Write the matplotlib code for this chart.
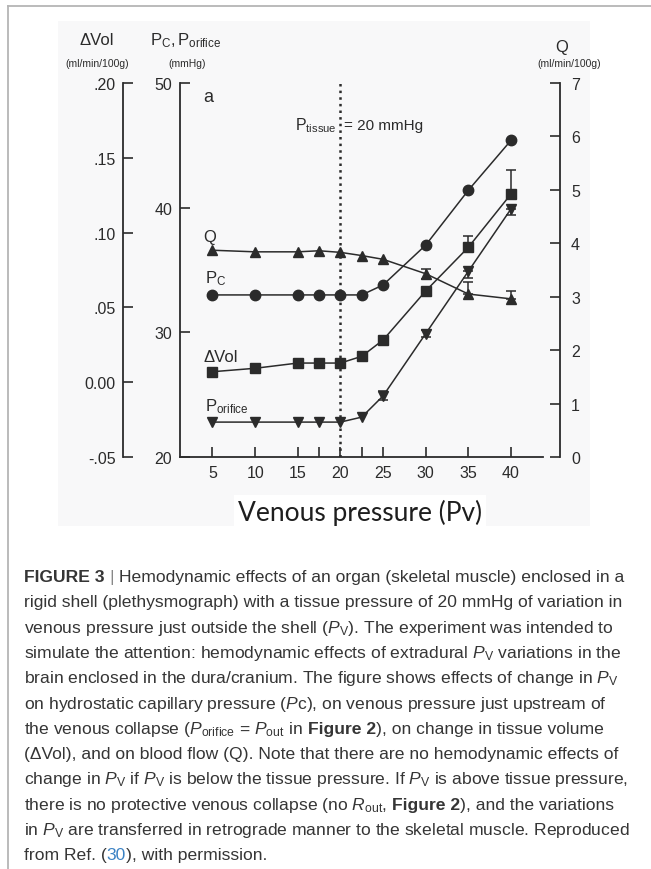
import matplotlib.pyplot as plt
from matplotlib.patches import Rectangle
from matplotlib.lines import Line2D

plt.rcParams['font.family'] = ['Liberation Sans', 'DejaVu Sans']
plt.rcParams['mathtext.fontset'] = 'custom'
plt.rcParams['mathtext.rm'] = 'Liberation Sans'
plt.rcParams['mathtext.it'] = 'Liberation Sans:italic'
plt.rcParams['mathtext.bf'] = 'Liberation Sans:bold'

# venous pressure (x) and the four series
pv = [5, 10, 15, 17.5, 20, 22.5, 25, 30, 35, 40]
pv_labels = ['5', '10', '15', '', '20', '', '25', '30', '35', '40']

q = [3.87, 3.84, 3.84, 3.86, 3.83, 3.77, 3.70, 3.43, 3.05, 2.96]
q_err_lo = [0, 0, 0, 0, 0, 0, 0, 0.09, 0, 0]
q_err_hi = [0, 0, 0, 0, 0, 0, 0, 0.09, 0.22, 0.14]

pc = [33.0, 33.0, 33.0, 33.0, 33.0, 33.0, 33.8, 37.0, 41.4, 45.4]

dvol = [0.0070, 0.0093, 0.0128, 0.0128, 0.0128, 0.0173, 0.0282, 0.0610, 0.0902, 0.1258]
dvol_err_lo = [0, 0, 0, 0, 0, 0, 0, 0, 0, 0]
dvol_err_hi = [0, 0, 0, 0, 0, 0, 0, 0, 0.0074, 0.0162]

porifice = [22.8, 22.8, 22.8, 22.8, 22.8, 23.2, 24.9, 29.9, 34.9, 39.9]
porif_err_lo = [0, 0, 0, 0, 0, 0, 0.36, 0.30, 0.53, 0.46]
porif_err_hi = [0, 0, 0, 0, 0, 0, 0.36, 0.30, 0, 0]

dvol_ticks = [-0.05, 0.0, 0.05, 0.10, 0.15, 0.20]
dvol_ticklabels = ['-.05', '0.00', '.05', '.10', '.15', '.20']
p_ticks = [20, 30, 40, 50]
q_ticks = [0, 1, 2, 3, 4, 5, 6, 7]

INK = '#2b2b2b'
W, H = 651, 870


def fx(x):
    return x / W


def fy(y):
    return 1 - y / H


def draw_series(ax, x, y, lo, hi, marker, ms):
    ax.plot(x, y, color=INK, lw=1.1, marker=marker, ms=ms, mfc=INK, mec=INK, zorder=3)
    idx = [i for i in range(len(x)) if lo[i] > 0 or hi[i] > 0]
    if idx:
        ax.errorbar([x[i] for i in idx], [y[i] for i in idx],
                    yerr=[[lo[i] for i in idx], [hi[i] for i in idx]],
                    fmt='none', ecolor=INK, elinewidth=1.1, capsize=3.5, capthick=1.1, zorder=3)


fig = plt.figure(figsize=(W / 100, H / 100), dpi=100)
fig.patch.set_facecolor('white')

# light backdrop of the scanned chart
fig.patches.append(Rectangle((fx(58), fy(527)), (590 - 58) / W, (527 - 22) / H,
                             transform=fig.transFigure, facecolor='#f8f8f9',
                             edgecolor='none', zorder=-5))
fig.add_artist(Line2D([fx(8), 1], [fy(7), fy(7)], color='#b5b5b5', lw=1.3))
fig.add_artist(Line2D([fx(8), fx(8)], [fy(7), 0], color='#b5b5b5', lw=1.3))

ax = fig.add_axes([fx(180), fy(458), (543 - 180) / W, (458 - 84) / H])
ax.patch.set_visible(False)
ax_v = ax.twinx()
ax_q = ax.twinx()
for a in (ax_v, ax_q):
    a.patch.set_visible(False)

ax.set_xlim(1.19, 43.75)
ax.set_ylim(20, 50)
ax_v.set_ylim(-0.05, 0.20)
ax_q.set_ylim(0, 7)

for a in (ax, ax_v, ax_q):
    for s in a.spines.values():
        s.set_visible(False)
        s.set_color(INK)
        s.set_linewidth(1.3)

ax.spines['left'].set_visible(True)
ax.spines['bottom'].set_visible(True)

ax_v.spines['left'].set_visible(True)
ax_v.spines['left'].set_position(('outward', 41))
ax_v.yaxis.set_ticks_position('left')
ax_v.yaxis.set_label_position('left')

ax_q.spines['right'].set_visible(True)
ax_q.spines['right'].set_position(('outward', 12.2))

ax.set_xticks(pv)
ax.set_xticklabels(pv_labels)
ax.set_yticks(p_ticks)
ax_v.set_yticks(dvol_ticks)
ax_v.set_yticklabels(dvol_ticklabels)
ax_q.set_yticks(q_ticks)

ax.tick_params(axis='x', direction='in', length=7, width=1.2, color=INK,
               labelsize=11.5, labelcolor=INK, pad=6)
ax.tick_params(axis='y', direction='in', length=7, width=1.2, color=INK,
               labelsize=11.5, labelcolor=INK, pad=5.5)
ax_v.tick_params(axis='y', direction='in', length=7, width=1.2, color=INK,
                 labelsize=11.5, labelcolor=INK, pad=5.5)
ax_q.tick_params(axis='y', direction='in', length=7, width=1.2, color=INK,
                 labelsize=11.5, labelcolor=INK, pad=8)

ax.axvline(20, color=INK, ls=':', lw=1.8, zorder=2)

draw_series(ax, pv, pc, [0] * len(pv), [0] * len(pv), 'o', 7.5)
draw_series(ax, pv, porifice, porif_err_lo, porif_err_hi, 'v', 7.5)
draw_series(ax_v, pv, dvol, dvol_err_lo, dvol_err_hi, 's', 6.5)
draw_series(ax_q, pv, q, q_err_lo, q_err_hi, '^', 7.5)

# axis headers
fig.text(fx(97), fy(45), 'ΔVol', ha='center', va='baseline', fontsize=12, color=INK)
fig.text(fx(97), fy(67), '(ml/min/100g)', ha='center', va='baseline', fontsize=7.5, color=INK)
fig.text(fx(186), fy(45), r'$\mathregular{P_C,P_{orifice}}$', ha='center', va='baseline',
         fontsize=12, color=INK)
fig.text(fx(187), fy(67), '(mmHg)', ha='center', va='baseline', fontsize=7.5, color=INK)
fig.text(fx(562), fy(52), 'Q', ha='center', va='baseline', fontsize=12, color=INK)
fig.text(fx(569), fy(67), '(ml/min/100g)', ha='center', va='baseline', fontsize=7.5, color=INK)

# labels inside the plot
fig.text(fx(203), fy(102), 'a', ha='left', va='baseline', fontsize=13, color=INK)
fig.text(fx(203), fy(242), 'Q', ha='left', va='baseline', fontsize=12, color=INK)
fig.text(fx(205), fy(283), r'$\mathregular{P_C}$', ha='left', va='baseline', fontsize=12, color=INK)
fig.text(fx(203), fy(362), 'ΔVol', ha='left', va='baseline', fontsize=12, color=INK)
fig.text(fx(205), fy(411), r'$\mathregular{P_{orifice}}$', ha='left', va='baseline',
         fontsize=12, color=INK)
fig.text(fx(337), fy(130), r'$\mathregular{P_{tissue}}$', ha='right', va='baseline',
         fontsize=11.5, color=INK)
fig.text(fx(344), fy(130), '= 20 mmHg', ha='left', va='baseline', fontsize=11, color=INK)

fig.text(fx(360), fy(521), 'Venous pressure (Pv)', ha='center', va='baseline',
         fontsize=19, fontfamily='Lato', color='#1e1e1e',
         bbox=dict(facecolor='white', edgecolor='none', pad=3))

# caption
CAP_FS = 12.6
CAP_INK = '#353535'
BLUE = '#3b82c4'
SPACE_PX = CAP_FS * 100 / 72 * 0.278
renderer = fig.canvas.get_renderer()
PV = r'$\mathit{P}_{\mathrm{V}}$'

caption = [
    [('FIGURE 3 ', dict(fontweight='bold')), ('| ', dict(color='#888888')),
     ('Hemodynamic effects of an organ (skeletal muscle) enclosed in a', {})],
    [('rigid shell (plethysmograph) with a tissue pressure of 20 mmHg of variation in', {})],
    [('venous pressure just outside the shell (' + PV + '). The experiment was intended to', {})],
    [('simulate the attention: hemodynamic effects of extradural ' + PV + ' variations in the', {})],
    [('brain enclosed in the dura/cranium. The figure shows effects of change in ' + PV, {})],
    [('on hydrostatic capillary pressure (' + r'$\mathit{P}$' + 'c), on venous pressure just upstream of', {})],
    [('the venous collapse (' + r'$\mathit{P}_{\mathrm{orifice}}$ = $\mathit{P}_{\mathrm{out}}$' + ' in ', {}),
     ('Figure 2', dict(fontweight='bold')), ('), on change in tissue volume', {})],
    [('(ΔVol), and on blood flow (Q). Note that there are no hemodynamic effects of', {})],
    [('change in ' + PV + ' if ' + PV + ' is below the tissue pressure. If ' + PV + ' is above tissue pressure,', {})],
    [('there is no protective venous collapse (no ' + r'$\mathit{R}_{\mathrm{out}}$' + ', ', {}),
     ('Figure 2', dict(fontweight='bold')), ('), and the variations', {})],
    [('in ' + PV + ' are transferred in retrograde manner to the skeletal muscle. Reproduced', {})],
    [('from Ref. (', {}), ('30', dict(color=BLUE)), ('), with permission.', {})],
]

y0 = 582
for i, runs in enumerate(caption):
    x = 24
    for txt, kw in runs:
        opts = dict(color=CAP_INK)
        opts.update(kw)
        body = txt.rstrip(' ')
        t = fig.text(fx(x), fy(y0 + i * 25.3), body, ha='left', va='baseline',
                     fontsize=CAP_FS, **opts)
        x = t.get_window_extent(renderer=renderer).x1
        x += SPACE_PX * (len(txt) - len(body))

fig.savefig('out.png', dpi=100)
